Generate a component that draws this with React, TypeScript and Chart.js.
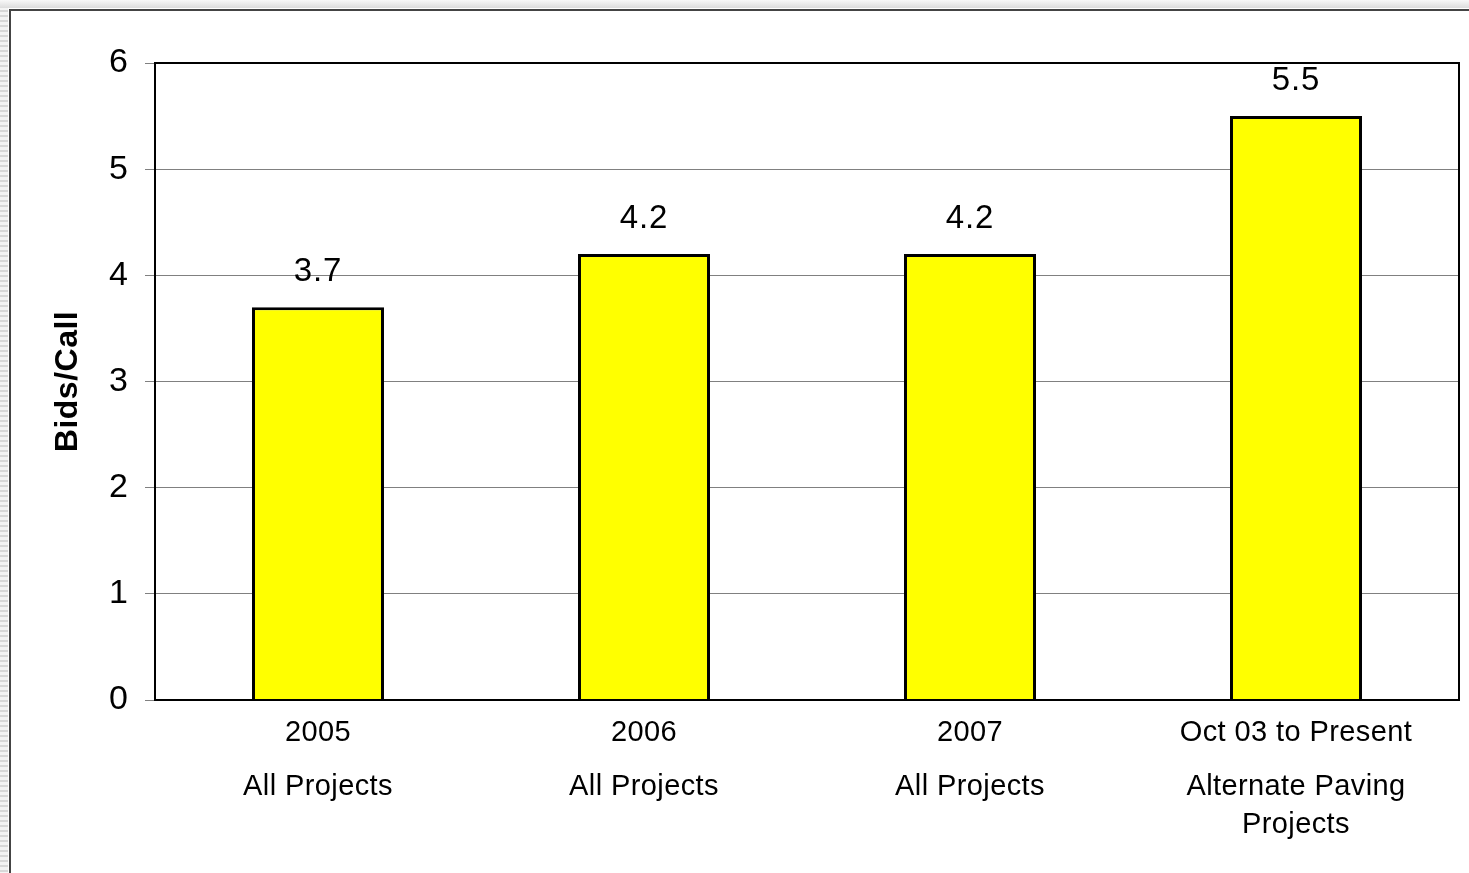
import React, { useEffect, useRef } from "react";
import { Chart, registerables } from "chart.js";

Chart.register(...registerables);

const categories: string[][] = [
  ["2005", "All Projects"],
  ["2006", "All Projects"],
  ["2007", "All Projects"],
  ["Oct 03 to Present", "Alternate Paving", "Projects"],
];
const bidsPerCall: number[] = [3.7, 4.2, 4.2, 5.5];
const yTicks: number[] = [0, 1, 2, 3, 4, 5, 6];
const yTitle = "Bids/Call";

const FONT = "'Liberation Sans', Arial, sans-serif";

export default function App() {
  const ref = useRef<HTMLCanvasElement | null>(null);

  useEffect(() => {
    document.body.style.margin = "0";
    const canvas = ref.current!;
    const decor = {
      id: "decor",
      afterDatasetsDraw(chart: any) {
        const ctx = chart.ctx;
        const a = chart.chartArea;
        const xs = chart.scales.x;
        const ys = chart.scales.y;
        ctx.save();
        // plot border
        ctx.strokeStyle = "#000";
        ctx.lineWidth = 2;
        ctx.strokeRect(a.left, a.top, a.right - a.left, a.bottom - a.top);
        // value labels
        ctx.fillStyle = "#000";
        ctx.font = `33px ${FONT}`;
        ctx.letterSpacing = "0.8px";
        ctx.textAlign = "center";
        ctx.textBaseline = "middle";
        bidsPerCall.forEach((v, i) => {
          const x = xs.getPixelForValue(i);
          const y = ys.getPixelForValue(v);
          ctx.fillText(v.toFixed(1), x, y - 35);
        });
        // category labels
        ctx.font = `29px ${FONT}`;
        ctx.letterSpacing = "0.4px";
        categories.forEach((lines, i) => {
          const x = xs.getPixelForValue(i);
          lines.forEach((t, j) => {
            const y = a.bottom + 33 + (j === 0 ? 0 : 54 + (j - 1) * 38);
            ctx.fillText(t, x, y);
          });
        });
        // y title
        ctx.font = `bold 32px ${FONT}`;
        ctx.letterSpacing = "0.5px";
        ctx.translate(68, (a.top + a.bottom) / 2);
        ctx.rotate(-Math.PI / 2);
        ctx.fillText(yTitle, 0, 0);
        ctx.restore();
      },
    };

    const chart = new Chart(canvas, {
      type: "bar",
      data: {
        labels: categories.map((c) => c.join(" ")),
        datasets: [
          {
            data: bidsPerCall,
            backgroundColor: "#FFFF00",
            borderColor: "#000000",
            borderWidth: 3,
            barPercentage: 0.405,
            categoryPercentage: 1,
          },
        ],
      },
      options: {
        animation: false,
        responsive: false,
        maintainAspectRatio: false,
        layout: { padding: { top: 63, right: 10, left: 0, bottom: 0 } },
        plugins: { legend: { display: false }, tooltip: { enabled: false } },
        scales: {
          x: {
            grid: { display: false },
            border: { display: false },
            ticks: { display: false },
            afterFit: (s: any) => {
              s.height = 873 - 700;
            },
          },
          y: {
            min: 0,
            max: 6,
            afterBuildTicks: (s: any) => {
              s.ticks = yTicks.map((v) => ({ value: v }));
            },
            grid: {
              color: "#808080",
              lineWidth: 1,
              tickLength: 10,
              drawOnChartArea: true,
            },
            border: { display: false },
            ticks: {
              color: "#000",
              font: { family: FONT, size: 34 },
              padding: 17,
            },
            afterFit: (s: any) => {
              s.width = 155;
            },
          },
        },
      },
      plugins: [decor],
    });
    return () => chart.destroy();
  }, []);

  return (
    <div style={{ position: "relative", width: 1469, height: 873, background: "#fff", overflow: "hidden" }}>
      <div
        style={{
          position: "absolute",
          left: 0,
          top: 0,
          width: 8,
          height: 873,
          background: "repeating-linear-gradient(to bottom, #d8d8d8 0px, #d8d8d8 2px, #f4f4f4 2px, #f4f4f4 5px)",
        }}
      />
      <div
        style={{
          position: "absolute",
          left: 0,
          top: 0,
          width: 1469,
          height: 8,
          background: "linear-gradient(to bottom, #f8f8f8, #dcdcdc)",
        }}
      />
      <div style={{ position: "absolute", left: 9, top: 9, width: 2, height: 864, background: "#444" }} />
      <div style={{ position: "absolute", left: 9, top: 9, width: 1460, height: 2, background: "#444" }} />
      <canvas ref={ref} width={1469} height={873} style={{ position: "absolute", left: 0, top: 0 }} />
    </div>
  );
}
